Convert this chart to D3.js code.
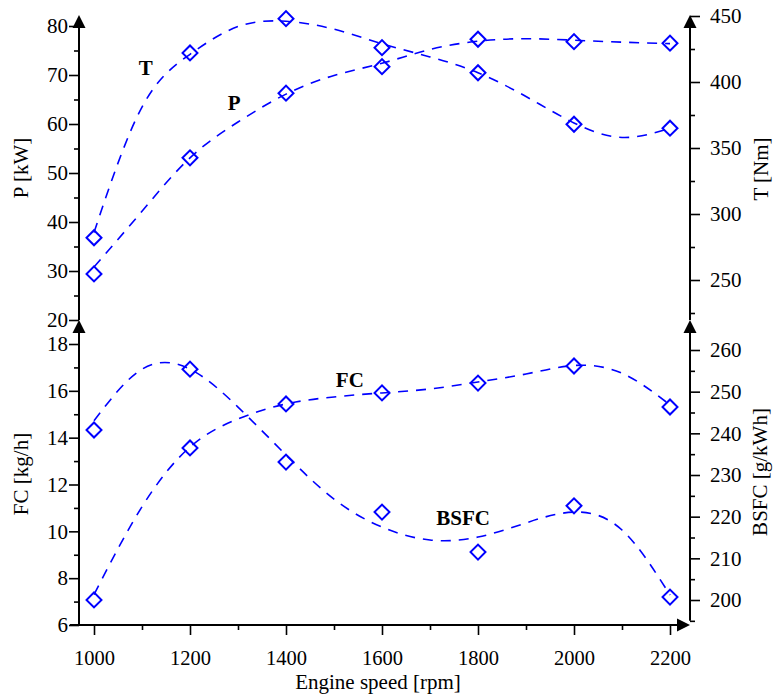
<!DOCTYPE html>
<html>
<head>
<meta charset="utf-8">
<script src="https://cdn.jsdelivr.net/npm/d3@7"></script>
<style>
body{margin:0;background:#fff;}
text{font-family:"Liberation Serif","Times New Roman",serif;fill:#000;}
</style>
</head>
<body>
<div id="chart"></div>
<script>

// measured points
var rpm = [1000,1200,1400,1600,1800,2000,2200];
var powerKW = [29.4,53.1,66.3,71.7,77.3,76.8,76.5];
var torqueNm = [282,422,448,426,407,368,365];
var fuelKgH = [7.07,13.56,15.44,15.91,16.33,17.06,15.31];
var bsfc = [240.8,255.4,233.1,221.1,211.5,222.6,200.7];

// fitted trend lines, every 100 rpm
var fitRpm = [1000,1100,1200,1300,1400,1500,1600,1700,1800,1900,2000,2100,2200];
var powerFit = [30.8,42.2,53.1,60.4,66.1,69.9,72.4,75.2,76.9,77.4,77.1,76.7,76.4];
var torqueFit = [286,381,421,442,446,440,429,419,407,389,369,358,365];
var fuelFit = [7.3,11.05,13.6,14.8,15.44,15.74,15.91,16.08,16.38,16.72,17.08,16.75,15.4];
var bsfcFit = [243,255.4,255.4,246.3,234.8,224.2,217.5,214.4,215.1,218.5,221.1,216.8,201.2];

// ticks
var rpmTicks = [1000,1200,1400,1600,1800,2000,2200];
var rpmMinor = [1100,1300,1500,1700,1900,2100];
var pTicks = [20,30,40,50,60,70,80];
var pMinor = [25,35,45,55,65,75];
var tTicks = [250,300,350,400,450];
var tMinor = [225,275,325,375,425];
var fcTicks = [6,8,10,12,14,16,18];
var fcMinor = [7,9,11,13,15,17];
var bTicks = [200,210,220,230,240,250,260];
var bMinor = [195,205,215,225,235,245,255];

var W = 774, H = 694;
var xl = 79, xr = 690;
var blue = "#0000ff";
var serif = "'Liberation Serif','Times New Roman',serif";

var svg = d3.select("#chart").append("svg").attr("width",W).attr("height",H);

var x = d3.scaleLinear().domain([1000,2200]).range([94,670]);
var yP = d3.scaleLinear().domain([20,80]).range([320,26]);
var yT = d3.scaleLinear().domain([250,450]).range([280,16]);
var yFC = d3.scaleLinear().domain([6,18]).range([625,344]);
var yB = d3.scaleLinear().domain([200,260]).range([600,350]);

function yAxis(axisFn,scale,majors,minors,xpos,pad){
	var g = svg.append("g").attr("transform","translate("+xpos+",0)");
	g.append("g").call(axisFn(scale).tickValues(minors).tickSize(5).tickFormat(""));
	g.append("g").call(axisFn(scale).tickValues(majors).tickSize(10).tickPadding(pad).tickFormat(d3.format("d")));
	g.selectAll(".domain").remove();
	g.selectAll("g").attr("font-family",serif);
	g.selectAll("line").attr("stroke","#000").attr("stroke-width",1.6);
	g.selectAll("text").style("font-family",serif).style("font-size","21px").attr("fill","#000");
}

function arrowUp(xp,yp){
	svg.append("path").attr("d","M"+xp+","+yp+"L"+(xp-6.5)+","+(yp+13)+"L"+(xp+6.5)+","+(yp+13)+"Z").attr("fill","#000");
}
function vline(xp,y1,y2){
	svg.append("line").attr("x1",xp).attr("x2",xp).attr("y1",y1).attr("y2",y2)
		.attr("stroke","#000").attr("stroke-width",2);
}

// top panel axes
yAxis(d3.axisLeft,yP,pTicks,pMinor,xl,1);
yAxis(d3.axisRight,yT,tTicks,tMinor,xr,10);
vline(xl,yP(20),20); arrowUp(xl,15);
vline(xr,yP(20),20); arrowUp(xr,15);

// bottom panel axes
yAxis(d3.axisLeft,yFC,fcTicks,fcMinor,xl,1);
yAxis(d3.axisRight,yB,bTicks,bMinor,xr,10);
vline(xl,yFC(6)+1,325); arrowUp(xl,320);
vline(xr,yB(195),325); arrowUp(xr,320);

// x axis
var gx = svg.append("g").attr("transform","translate(0,"+yFC(6)+")");
gx.append("g").call(d3.axisBottom(x).tickValues(rpmMinor).tickSize(5).tickFormat(""));
gx.append("g").call(d3.axisBottom(x).tickValues(rpmTicks).tickSize(10).tickPadding(15).tickFormat(d3.format("d")));
gx.selectAll(".domain").remove();
gx.selectAll("g").attr("font-family",serif);
gx.selectAll("line").attr("stroke","#000").attr("stroke-width",1.6);
gx.selectAll("text").style("font-family",serif).style("font-size","20.5px").attr("fill","#000");
svg.append("line").attr("x1",70).attr("x2",xr-8).attr("y1",yFC(6)).attr("y2",yFC(6))
	.attr("stroke","#000").attr("stroke-width",2);
svg.append("path").attr("d","M"+xr+","+yFC(6)+"L"+(xr-13)+","+(yFC(6)-6.5)+"L"+(xr-13)+","+(yFC(6)+6.5)+"Z").attr("fill","#000");

// axis titles
function vtitle(txt,xp,yp){
	svg.append("text").attr("transform","translate("+xp+","+yp+") rotate(-90)")
		.attr("text-anchor","middle").style("font-size","21px").text(txt);
}
vtitle("P [kW]",28,168);
vtitle("T [Nm]",768,169);
vtitle("FC [kg/h]",28,474);
vtitle("BSFC [g/kWh]",767,472);
svg.append("text").attr("x",378).attr("y",689).attr("text-anchor","middle")
	.style("font-size","21px").text("Engine speed [rpm]");

// curves and markers
var series = [
	{fit:powerFit,pts:powerKW,y:yP},
	{fit:torqueFit,pts:torqueNm,y:yT},
	{fit:fuelFit,pts:fuelKgH,y:yFC},
	{fit:bsfcFit,pts:bsfc,y:yB}
];
var diamond = d3.symbol().type(d3.symbolSquare).size(112);

series.forEach(function(s){
	var line = d3.line()
		.x(function(d,i){return x(fitRpm[i]);})
		.y(function(d){return s.y(d);})
		.curve(d3.curveNatural);
	svg.append("path").datum(s.fit)
		.attr("d",line)
		.attr("fill","none")
		.attr("stroke",blue)
		.attr("stroke-width",1.6)
		.attr("stroke-dasharray","10,8");
	svg.append("g").selectAll("path").data(s.pts).enter().append("path")
		.attr("d",diamond)
		.attr("transform",function(d,i){return "translate("+x(rpm[i])+","+s.y(d)+") rotate(45)";})
		.attr("fill","none")
		.attr("stroke",blue)
		.attr("stroke-width",2);
});

// curve names
var names = [
	{t:"T",r:1108,v:70,y:yP},
	{t:"P",r:1292,v:62.9,y:yP},
	{t:"FC",r:1533,v:16.16,y:yFC},
	{t:"BSFC",r:1769,v:10.27,y:yFC}
];
svg.selectAll(".name").data(names).enter().append("text")
	.attr("class","name")
	.attr("x",function(d){return x(d.r);})
	.attr("y",function(d){return d.y(d.v);})
	.attr("text-anchor","middle")
	.style("font-size","21px")
	.style("font-weight","bold")
	.text(function(d){return d.t;});

</script>
</body>
</html>
